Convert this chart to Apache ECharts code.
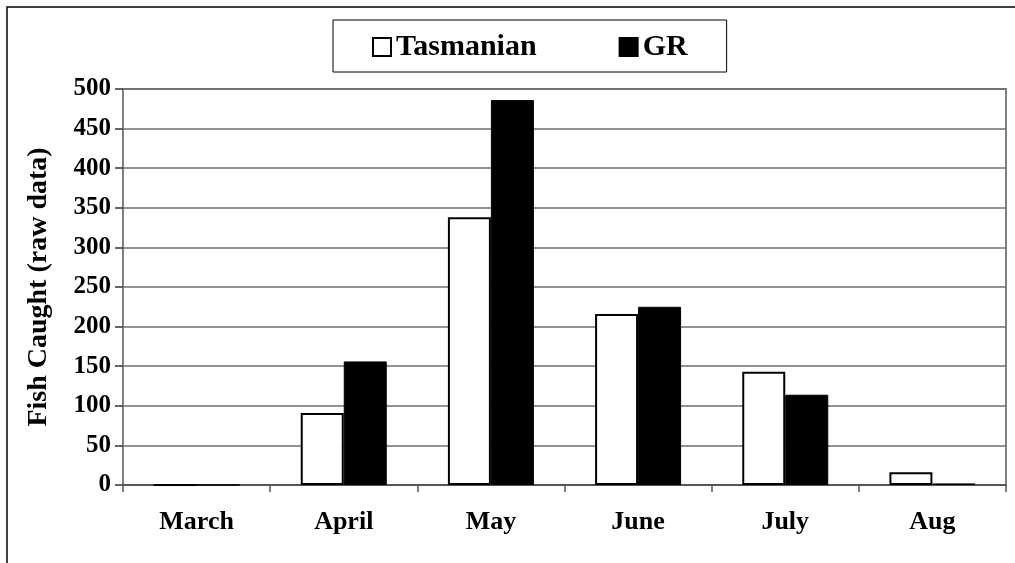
<!DOCTYPE html>
<html>
<head>
<meta charset="utf-8">
<script src="https://cdn.jsdelivr.net/npm/echarts@6/dist/echarts.min.js"></script>
<style>
html,body{margin:0;padding:0;background:#fff;}
#c{width:1015px;height:563px;}
</style>
</head>
<body>
<div id="c"></div>
<script>
const categories = ['March', 'April', 'May', 'June', 'July', 'Aug'];
const tasmanian = [0, 91, 338, 216, 143, 16];
const gr = [0, 156, 486, 225, 114, 2];
const yTicks = { min: 0, max: 500, interval: 50 };
const yTitle = 'Fish Caught (raw data)';

const FONT = "'Liberation Serif', 'Times New Roman', serif";
const chart = echarts.init(document.getElementById('c'));
chart.setOption({
  animation: false,
  backgroundColor: '#fff',
  graphic: [{
    type: 'rect', z: -10, silent: true,
    shape: { x: 7, y: 7, width: 1040, height: 600 },
    style: { fill: 'none', stroke: '#000', lineWidth: 1.5 }
  }],
  legend: {
    left: 333, top: 20,
    padding: [12, 39, 10, 39],
    borderColor: '#000', borderWidth: 1,
    itemWidth: 18, itemHeight: 18, itemGap: 82,
    icon: 'rect',
    textStyle: { fontFamily: FONT, fontWeight: 'bold', fontSize: 30, color: '#000' },
    data: ['Tasmanian', 'GR']
  },
  grid: {
    left: 123, top: 89, right: 9, bottom: 78,
    show: true, borderColor: '#808080', borderWidth: 2, backgroundColor: 'transparent'
  },
  xAxis: {
    type: 'category', data: categories,
    axisLine: { lineStyle: { color: '#555', width: 2 } },
    axisTick: { show: true, length: 7, lineStyle: { color: '#555', width: 1.5 } },
    axisLabel: { fontFamily: FONT, fontWeight: 'bold', fontSize: 26, color: '#000', margin: 24 }
  },
  yAxis: {
    type: 'value', min: yTicks.min, max: yTicks.max, interval: yTicks.interval,
    name: yTitle, nameLocation: 'middle', nameRotate: 90, nameGap: 70,
    nameTextStyle: { fontFamily: FONT, fontWeight: 'bold', fontSize: 28, color: '#000' },
    axisLine: { show: true, lineStyle: { color: '#808080', width: 2 } },
    axisTick: { show: true, length: 8, lineStyle: { color: '#333', width: 1.5 } },
    axisLabel: { fontFamily: FONT, fontWeight: 'bold', fontSize: 25, color: '#000', margin: 12 },
    splitLine: { show: true, lineStyle: { color: '#6e6e6e', width: 1.5 } }
  },
  series: [{
    name: 'Tasmanian', type: 'bar', data: tasmanian,
    barWidth: 43, barGap: '0%',
    itemStyle: { color: '#fff', borderColor: '#000', borderWidth: 2 }
  }, {
    name: 'GR', type: 'bar', data: gr,
    barWidth: 43,
    itemStyle: { color: '#000', borderColor: '#000', borderWidth: 1 }
  }]
});
</script>
</body>
</html>
